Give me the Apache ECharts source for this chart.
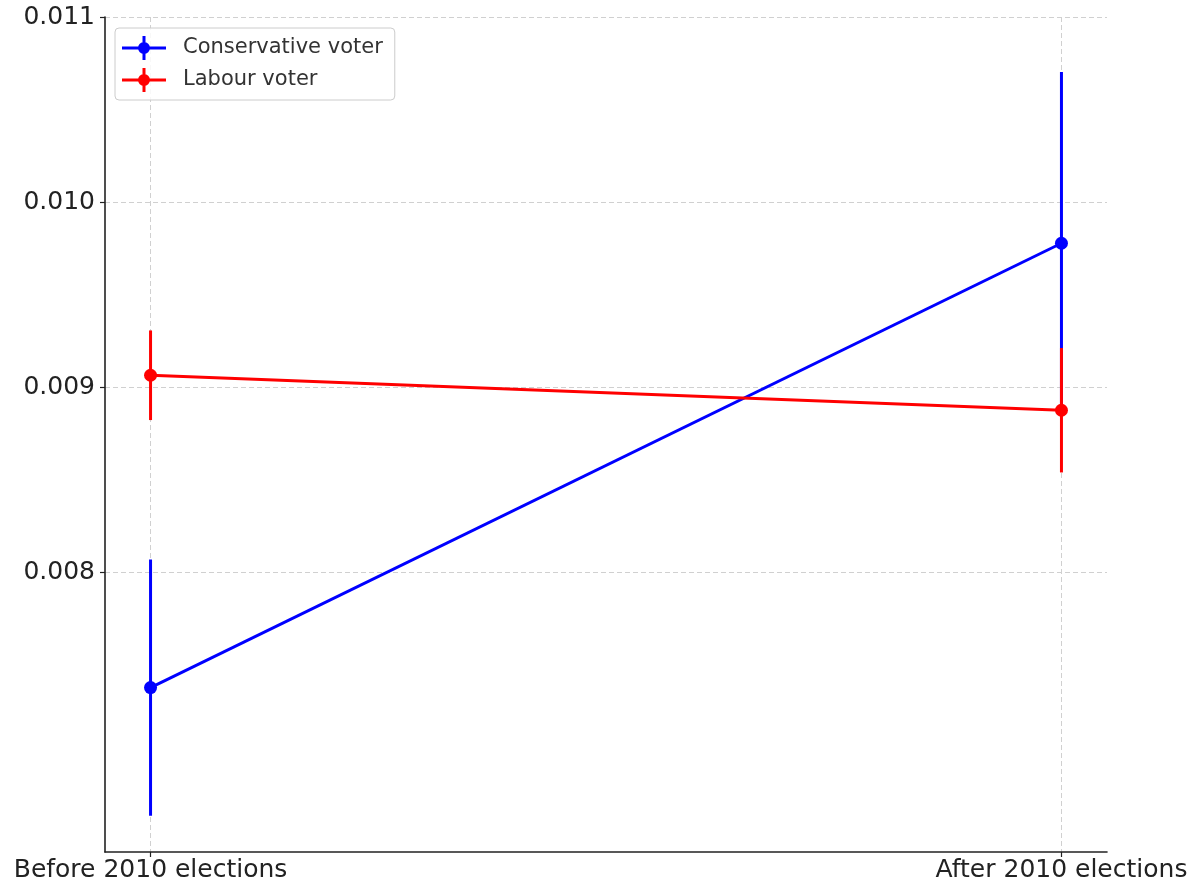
<!DOCTYPE html>
<html>
<head>
<meta charset="utf-8">
<script src="https://cdn.jsdelivr.net/npm/echarts@6/dist/echarts.min.js"></script>
<style>
  html, body { margin: 0; padding: 0; background: #fff; }
  #chart { width: 1202px; height: 890px; }
</style>
</head>
<body>
<div id="chart"></div>
<script>
// Periods compared
const categories = ['Before 2010 elections', 'After 2010 elections'];
// Mean values and error half-widths per voter group
const conservativeMean = [0.007378, 0.009778];
const conservativeErr = [0.000692, 0.000925];
const labourMean = [0.009065, 0.008876];
const labourErr = [0.000242, 0.000336];
// Y-axis tick values
const yTicks = [0.008, 0.009, 0.010, 0.011];

const BLUE = '#0000ff';
const RED = '#ff0000';

function pointData(means) {
  return means.map((v, i) => [i, v]);
}
function errData(means, errs) {
  return means.map((v, i) => [i, v - errs[i], v + errs[i]]);
}
function errSeries(name, color, means, errs) {
  return {
    type: 'custom',
    name: name,
    data: errData(means, errs),
    encode: { x: 0, y: [1, 2] },
    renderItem: function (params, api) {
      const lo = api.coord([api.value(0), api.value(1)]);
      const hi = api.coord([api.value(0), api.value(2)]);
      return {
        type: 'line',
        shape: { x1: lo[0], y1: lo[1], x2: hi[0], y2: hi[1] },
        style: { stroke: color, lineWidth: 3 }
      };
    },
    silent: true,
    z: 2
  };
}
function lineSeries(name, color, means) {
  return {
    type: 'line',
    name: name,
    data: pointData(means),
    symbol: 'circle',
    symbolSize: 13,
    showSymbol: true,
    itemStyle: { color: color },
    lineStyle: { color: color, width: 3 },
    animation: false,
    z: 3
  };
}

// Legend glyph: line + marker + vertical error bar
const legendIcon = 'path://M0 10.5H44V13.5H0Z M20.5 0H23.5V24H20.5Z M16 12A6 6 0 1 1 28 12A6 6 0 1 1 16 12Z';

const chart = echarts.init(document.getElementById('chart'), null, { renderer: 'canvas' });
chart.setOption({
  animation: false,
  backgroundColor: '#ffffff',
  grid: { left: 105, right: 95, top: 17, bottom: 38, containLabel: false },
  xAxis: {
    type: 'value',
    min: -0.05,
    max: 1.05,
    axisLine: { show: true, onZero: false, lineStyle: { color: '#222', width: 1.6 } },
    axisTick: { show: true, length: 5, lineStyle: { color: '#222', width: 1.2 }, customValues: [0, 1] },
    axisLabel: {
      customValues: [0, 1],
      formatter: v => categories[Math.round(v)],
      fontFamily: 'DejaVu Sans',
      fontSize: 25,
      color: '#222',
      margin: 6
    },
    splitLine: { show: true, lineStyle: { color: '#d0d0d0', type: [5, 3], width: 1 } }
  },
  yAxis: {
    type: 'value',
    min: 0.00649,
    max: 0.011,
    axisLine: { show: true, onZero: false, lineStyle: { color: '#222', width: 1.6 } },
    axisTick: { show: true, length: 5, lineStyle: { color: '#222', width: 1.2 }, customValues: yTicks },
    axisLabel: {
      customValues: yTicks,
      formatter: v => v.toFixed(3),
      fontFamily: 'DejaVu Sans',
      fontSize: 25,
      color: '#222',
      margin: 10
    },
    splitLine: { show: true, lineStyle: { color: '#d0d0d0', type: [5, 3], width: 1 } }
  },
  legend: {
    orient: 'vertical',
    left: 115,
    top: 28,
    padding: [8, 12, 8, 7],
    itemGap: 8,
    itemWidth: 44,
    itemHeight: 24,
    backgroundColor: 'rgba(255,255,255,0.85)',
    borderColor: '#cccccc',
    borderWidth: 1,
    borderRadius: 4,
    textStyle: { fontFamily: 'DejaVu Sans', fontSize: 21, color: '#333', padding: [0, 0, 0, 12] },
    data: [
      { name: 'Conservative voter', icon: legendIcon, itemStyle: { color: BLUE } },
      { name: 'Labour voter', icon: legendIcon, itemStyle: { color: RED } }
    ]
  },
  series: [
    errSeries('Conservative voter err', BLUE, conservativeMean, conservativeErr),
    lineSeries('Conservative voter', BLUE, conservativeMean),
    errSeries('Labour voter err', RED, labourMean, labourErr),
    lineSeries('Labour voter', RED, labourMean)
  ]
});
</script>
</body>
</html>
